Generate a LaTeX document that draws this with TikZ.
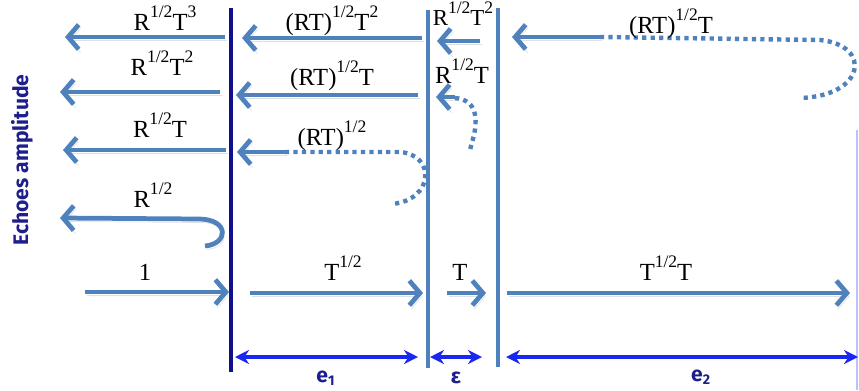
\documentclass[tikz,border=0pt]{standalone}
\usepackage{fontspec}
\setmainfont{Liberation Serif}
\newfontfamily\echofont{Fira Sans}
\usetikzlibrary{arrows.meta,positioning}
\definecolor{wavecol}{RGB}{79,129,189}
\definecolor{navycol}{RGB}{16,16,140}
\definecolor{dimcol}{RGB}{24,40,240}
\definecolor{labcol}{RGB}{30,30,140}
\newcommand{\upx}[1]{\raisebox{0.5em}{\fontsize{10}{10}\selectfont #1}}

\begin{document}
\begin{tikzpicture}[x=0.2mm, y=-0.2mm,
    amp/.style={anchor=base, inner sep=0pt, font=\fontsize{14}{16}\selectfont},
    wave/.style={line width=2.7pt, draw=wavecol, -{Straight Barb[length=6pt,width=14pt]},
        preaction={draw=black!12, transform canvas={shift={(0.4mm,-0.7mm)}}}},
    dotwave/.style={line width=2.5pt, draw=wavecol, dash pattern=on 2.4pt off 2.4pt},
    plate/.style={line width=2.6pt, draw=wavecol},
    gap/.style={line width=1.9pt, draw=dimcol, {Stealth[length=8pt,width=8pt]}-{Stealth[length=8pt,width=8pt]}},
    dimlab/.style={text=labcol, inner sep=1pt, font=\echofont\bfseries\fontsize{12}{12}\selectfont}]
    \useasboundingbox (0,0) rectangle (859,390);

    % Interfaces
    \draw[line width=2.8pt, navycol] (231,8) -- (231,372);
    \draw[plate] (428,10) -- (428,368);
    \draw[plate] (498,8) -- (498,367);
    \draw[line width=0.8pt, blue!25] (857,130) -- (857,390);

    % Echoes amplitude
    \node[rotate=90, text=labcol, font=\echofont\bfseries\fontsize{12}{12}\selectfont] (yl) at (22,160) {Echoes amplitude};

    % Reflected waves, left of first interface
    \draw[wave] (225,37) -- (65,37);
    \node[amp] (l1) at (165,30) {R\upx{1/2}T\upx{3}};
    \draw[wave] (220,92) -- (60,92);
    \node[amp] (l2) at (162,75) {R\upx{1/2}T\upx{2}};
    \draw[wave] (226,150) -- (63,150);
    \node[amp] (l3) at (160,137) {R\upx{1/2}T};
    \draw[wave] (205,246) .. controls (228,244) and (230,220) .. (200,219) -- (60,218);
    \node[amp] (l4) at (153,207) {R\upx{1/2}};
    \draw[wave] (85,292) -- (229,292);
    \node[amp] (l5) at (145,280) {1};

    % First layer
    \draw[wave] (422,38) -- (242,38);
    \node[amp] (m1) at (332,30) {(RT)\upx{1/2}T\upx{2}};
    \draw[wave] (418,95) -- (236,95);
    \node[amp] (m2) at (332,85) {(RT)\upx{1/2}T};
    \draw[wave] (285,152) -- (237,152);
    \draw[dotwave] (285,152) -- (400,152) .. controls (436,155) and (434,200) .. (392,204);
    \node[amp] (m3) at (332,145) {(RT)\upx{1/2}};
    \draw[wave] (250,293) -- (423,293);
    \node[amp] (m5) at (343,280) {T\upx{1/2}};

    % Gap
    \draw[wave] (480,41) -- (437,41);
    \node[amp, font=\fontsize{13}{14}\selectfont] (g1) at (463,25) {R\upx{1/2}T\upx{2}};
    \draw[wave] (455,97) -- (436,97);
    \draw[dotwave] (455,98) .. controls (478,100) and (477,120) .. (474,135) -- (470,150);
    \node[amp] (g2) at (462,83) {R\upx{1/2}T};
    \draw[wave] (447,293) -- (486,293);
    \node[amp] (g5) at (460,280) {T};

    % Second layer
    \draw[wave] (600,37) -- (512,37);
    \draw[dotwave] (600,37) -- (820,40) .. controls (872,45) and (866,96) .. (800,98);
    \node[amp] (r1) at (671,33) {(RT)\upx{1/2}T};
    \draw[wave] (507,293) -- (850,293);
    \node[amp] (r5) at (666,280) {T\upx{1/2}T};

    % Thicknesses
    \draw[gap] (235,357) -- (418,357);
    \node[dimlab] (e1) at (326,378) {e\textsubscript{1}};
    \draw[gap] (430,357) -- (482,357);
    \node[dimlab] (eps) at (456,378) {ε};
    \draw[gap] (506,357) -- (858,357);
    \node[dimlab] (e2) at (701,377) {e\textsubscript{2}};
\end{tikzpicture}
\end{document}
